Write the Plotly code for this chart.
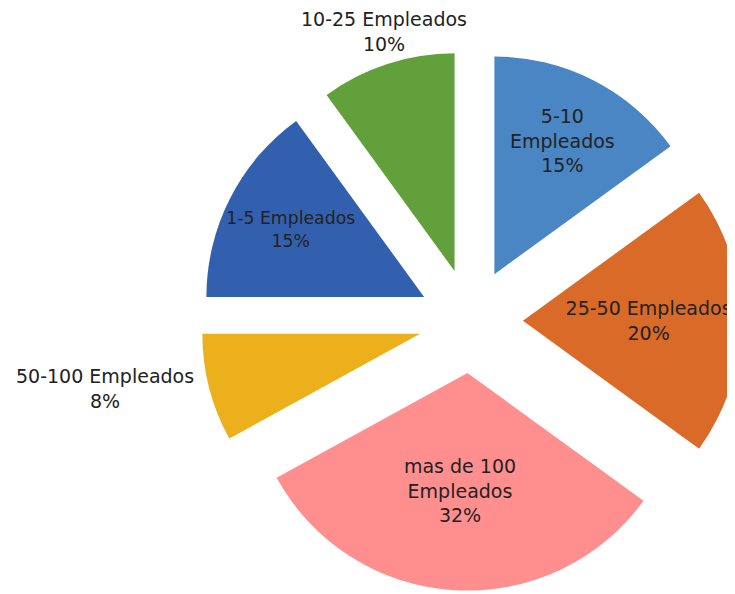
import plotly.graph_objects as go

# Distribución de empresas por número de empleados
categorias = ["5-10 Empleados", "25-50 Empleados", "mas de 100 Empleados",
              "50-100 Empleados", "1-5 Empleados", "10-25 Empleados"]
porcentajes = [15, 20, 32, 8, 15, 10]
textos = ["5-10<br>Empleados<br>15%", "25-50 Empleados<br>20%",
          "mas de 100<br>Empleados<br>32%", "50-100 Empleados<br>8%",
          "1-5 Empleados<br>15%", "10-25 Empleados<br>10%"]
colores = ["#4a86c3", "#d96a28", "#ff8f8f", "#ebb01c", "#3260ae", "#62a03b"]
# las etiquetas de las porciones pequeñas van fuera (como anotaciones)
dentro = [True, True, True, False, True, False]

fuente = dict(family="DejaVu Sans", size=19, color="#222222")

fig = go.Figure(go.Pie(
    labels=categorias,
    values=porcentajes,
    text=textos,
    textinfo="text",
    textposition=["inside" if d else "none" for d in dentro],
    insidetextorientation="horizontal",
    sort=False,
    direction="clockwise",
    rotation=0,
    pull=0.24,
    marker=dict(colors=colores, line=dict(width=0)),
    textfont=fuente,
    domain=dict(x=[0.262, 0.997], y=[0.019, 0.928]),
    showlegend=False,
))

# posiciones de las etiquetas externas (fracción del lienzo)
pos_externas = {3: (0.132, 0.360), 5: (0.512, 0.960)}
for i, (px_, py_) in pos_externas.items():
    fig.add_annotation(x=px_, y=py_, xref="paper", yref="paper",
                       text=textos[i], showarrow=False, font=fuente,
                       xanchor="center", yanchor="middle")

fig.update_layout(
    width=735,
    height=594,
    margin=dict(l=0, r=0, t=0, b=0),
    paper_bgcolor="white",
    plot_bgcolor="white",
)

fig.write_html("out.html")
